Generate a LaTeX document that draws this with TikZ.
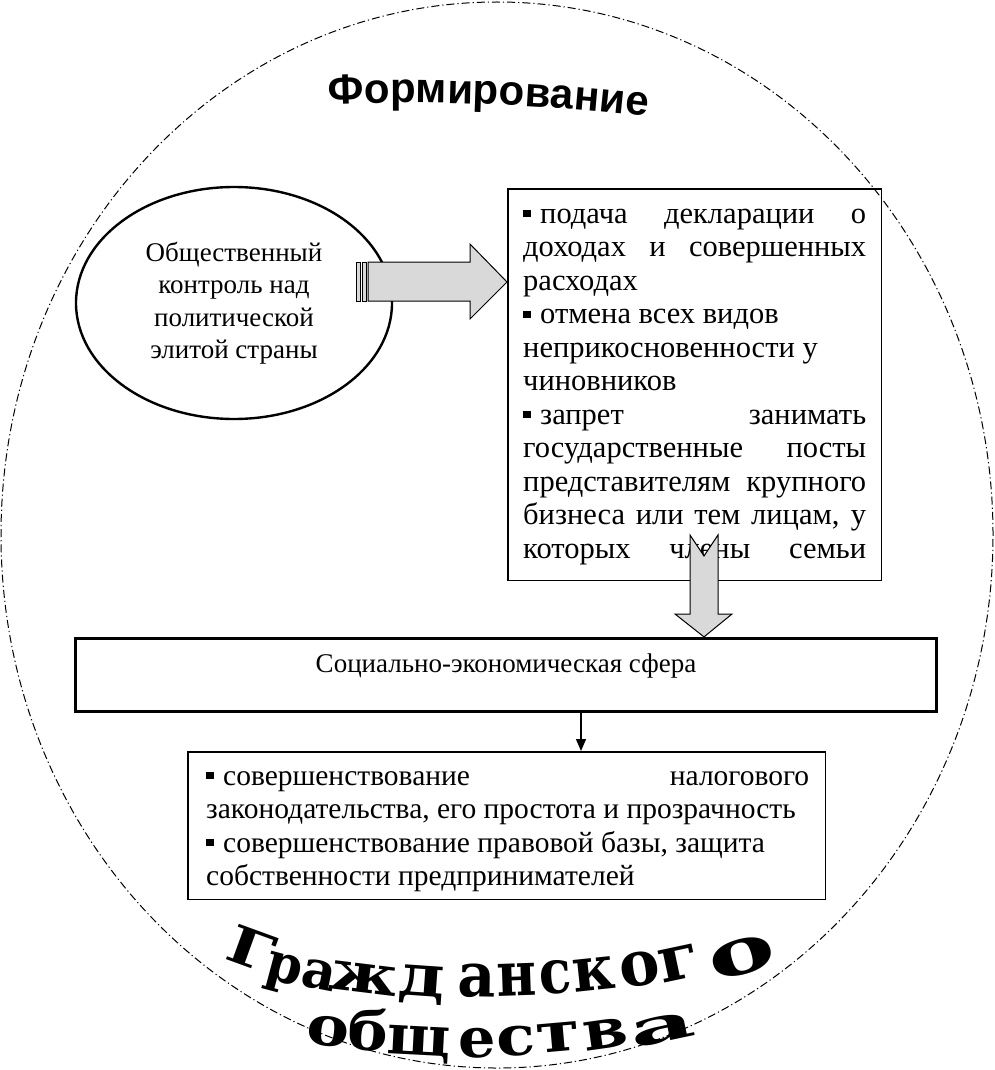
\documentclass[tikz,border=0pt]{standalone}
\usepackage{fontspec}
\setmainfont{Liberation Serif}
\newfontfamily\titlefont{Liberation Sans}
\newfontfamily\arcfont{DejaVu Serif}
\usetikzlibrary{shapes.geometric,decorations.text,arrows.meta}
\newcommand\sqbul{\raisebox{6pt}{\rule{8pt}{7pt}}\hspace{9pt}}
\newcommand\lsc[3]{\scalebox{#1}[#2]{#3}}
\tikzset{
  outerring/.style={draw=black, line width=1pt, dash pattern=on 8pt off 3pt on 1.2pt off 3pt},
  blockarrow/.style={draw=black, line width=1pt, fill=gray!30, line join=miter},
  thinbox/.style={draw=black, line width=1.5pt, inner sep=0pt},
  textblock/.style={inner sep=0pt, anchor=base west},
  arcletter/.style={anchor=base, inner sep=0pt, font=\arcfont\bfseries\fontsize{56}{56}\selectfont},
}
\begin{document}
\begin{tikzpicture}[x=1pt,y=-1pt]
\useasboundingbox (0,0) rectangle (995,1070);
% outer dash-dot ring
\draw[outerring] (497,535) ellipse [x radius=496pt, y radius=533pt];
% title
\path[decorate, decoration={text along path, text align=center,
  text={|\titlefont\bfseries\fontsize{42}{42}\selectfont|Формирование}}]
  (320,105) .. controls (415,100) and (555,104) .. (656,118);
% ellipse
\node[draw=black, ellipse, line width=2.4pt, minimum width=316pt, minimum height=232pt,
  inner sep=0pt, align=center, font=\fontsize{27}{32.5}\selectfont] (ctrl) at (234,303)
  {Общественный\\контроль над\\политической\\элитой страны};
% right box
\node[thinbox, minimum width=373.5pt, minimum height=391.5pt] (decl) at (694.5,384.5) {};
\node[textblock] (declt) at (523,223) {\parbox[t]{343pt}{\fontsize{30.5}{33.5}\selectfont
\makebox[\linewidth][s]{\sqbul подача декларации о}\\
\makebox[\linewidth][s]{доходах и совершенных}\\
расходах\\
\sqbul отмена всех видов\\
неприкосновенности у\\
чиновников\\
\makebox[\linewidth][s]{\sqbul запрет занимать}\\
\makebox[\linewidth][s]{государственные посты}\\
\makebox[\linewidth][s]{представителям крупного}\\
\makebox[\linewidth][s]{бизнеса или тем лицам, у}\\
\makebox[\linewidth][s]{которых члены семьи}}};
% striped right block arrow (ellipse -> box)
\draw[blockarrow] (356,262) rectangle (360,301);
\draw[blockarrow] (362,262) rectangle (366,301);
\draw[blockarrow] (368,262) -- (470,262) -- (470,244) -- (decl.west |- 0,282) -- (470,319) -- (470,301) -- (368,301) -- cycle;
% social box
\node[draw=black, line width=3.2pt, minimum width=861pt, minimum height=73pt, inner sep=0pt] (soc) at (506,675) {};
\node[inner sep=0pt, anchor=base, font=\fontsize{27}{30}\selectfont] (soct) at (506,672) {Социально-экономическая сфера};
% notched down block arrow (box -> social box)
\draw[blockarrow] (690,535) -- (704,556) -- (718,535) -- (718,614) -- (732,614) -- (soc.north -| 704,0) -- (675,614) -- (690,614) -- cycle;
% bottom box
\node[thinbox, minimum width=637.5pt, minimum height=147.5pt] (bot) at (506.5,825.5) {};
\node[textblock] (bott) at (206,785) {\parbox[t]{603pt}{\fontsize{29.5}{33.5}\selectfont
\makebox[\linewidth][s]{\sqbul совершенствование налогового}\\
законодательства, его простота и прозрачность\\
\sqbul совершенствование правовой базы, защита\\
собственности предпринимателей}};
% small arrow
\coordinate (ax) at (581,0);
\draw[line width=1.3pt, -{Triangle[length=12pt,width=10pt]}] (soc.south -| ax) -- (bot.north -| ax);
% bottom arched text, line 1
\node[arcletter, rotate=-20] (a1) at (245,966) {\lsc{1.2}{0.92}{Г}};
\node[arcletter, rotate=-15] (a2) at (281,982) {\lsc{0.92}{0.95}{р}};
\node[arcletter, rotate=-11] (a3) at (316,989) {\lsc{0.95}{0.95}{а}};
\node[arcletter, rotate=-7] (a4) at (362,993) {\lsc{1.2}{0.98}{ж}};
\node[arcletter, rotate=-4] (a5) at (421,996) {\lsc{1.25}{1.04}{д}};
\node[arcletter, rotate=-1] (a6) at (477,997) {\lsc{1.05}{1.1}{а}};
\node[arcletter, rotate=2] (a7) at (517,996) {\lsc{0.97}{1.1}{н}};
\node[arcletter, rotate=4] (a8) at (557,993) {\lsc{0.95}{1.1}{с}};
\node[arcletter, rotate=6] (a9) at (596,990) {\lsc{1.05}{1.1}{к}};
\node[arcletter, rotate=9] (a10) at (642,985) {\lsc{1.08}{1.12}{о}};
\node[arcletter, rotate=12] (a11) at (683,979) {\lsc{1.2}{1.12}{г}};
\node[arcletter, rotate=16] (a12) at (747,973) {\lsc{1.8}{1.15}{о}};
% line 2
\node[arcletter, rotate=-6] (b1) at (327,1046) {\lsc{1.14}{0.98}{о}};
\node[arcletter, rotate=-5] (b2) at (367,1050) {\lsc{1.08}{0.98}{б}};
\node[arcletter, rotate=-3] (b3) at (418,1055) {\lsc{1.05}{0.98}{щ}};
\node[arcletter, rotate=0] (b4) at (477,1057) {\lsc{1.05}{0.98}{е}};
\node[arcletter, rotate=3] (b5) at (517,1055) {\lsc{1.14}{0.98}{с}};
\node[arcletter, rotate=5] (b6) at (560,1052) {\lsc{1.28}{0.98}{т}};
\node[arcletter, rotate=8] (b7) at (608,1048) {\lsc{1.15}{0.98}{в}};
\node[arcletter, rotate=12] (b8) at (665,1042) {\lsc{1.8}{0.86}{а}};
\end{tikzpicture}
\end{document}
